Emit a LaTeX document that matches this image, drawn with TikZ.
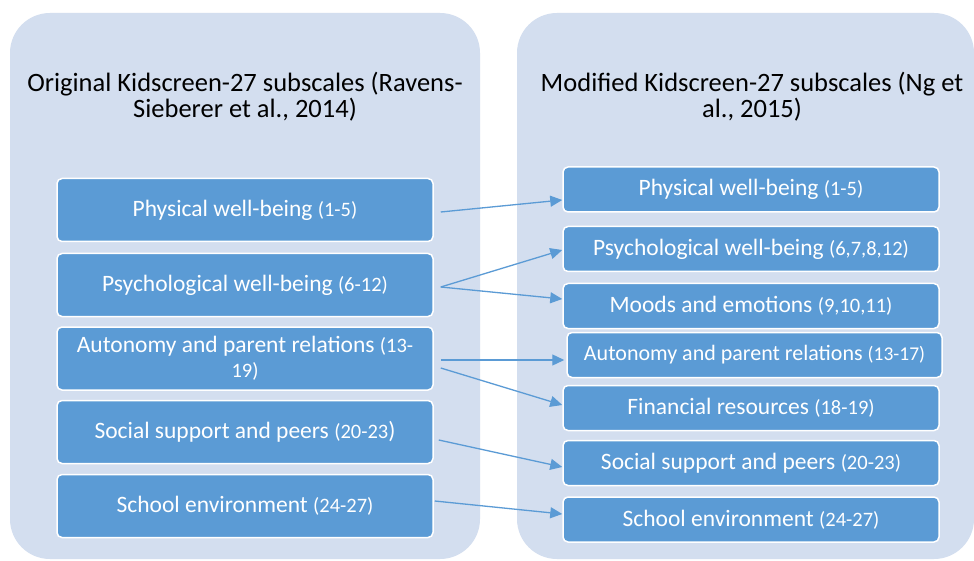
\documentclass[tikz,border=0pt]{standalone}
\usepackage{fontspec}
\setmainfont{Carlito}
\usetikzlibrary{arrows.meta}
\definecolor{panel}{HTML}{D3DEEF}
\definecolor{boxblue}{HTML}{5B9BD5}
% item numbers are set a little smaller than the subscale names
\newcommand\nr[1]{{\fontsize{20.5}{24}\selectfont #1}}
\newcommand\nrs[1]{{\fontsize{19.5}{23}\selectfont #1}}
\tikzset{
  panelbox/.style={fill=panel, rounded corners=40pt},
  heading/.style={font=\fontsize{26.5}{26}\selectfont, align=center, inner sep=0pt},
  sub/.style={draw=white, line width=1.5pt, fill=boxblue, rounded corners=5pt,
    text=white, font=\fontsize{23.5}{25}\selectfont, inner sep=0pt, align=center},
  leftsub/.style={sub, minimum width=376pt, minimum height=63pt},
  rightsub/.style={sub, minimum width=376pt, minimum height=45pt},
  link/.style={draw=boxblue, line width=1.3pt, -{Triangle[length=12pt,width=11pt]}}
}
\begin{document}
\begin{tikzpicture}[x=1pt,y=-1pt]
\useasboundingbox (0,0) rectangle (974,561);
\fill[white] (0,0) rectangle (974,561);

% two background panels
\path[panelbox] (10,13) rectangle (480,559);
\path[panelbox] (517,13) rectangle (974,559);

% headings
\node[heading] (lt) at (245,97) {Original Kidscreen-27 subscales (Ravens-\\Sieberer et al., 2014)};
\node[heading] (rt) at (752,97) {Modified Kidscreen-27 subscales (Ng et\\al., 2015)};

% original subscales
\node[leftsub] (l1) at (245,210) {Physical well-being \nr{(1-5)}};
\node[leftsub] (l2) at (245,285) {Psychological well-being \nr{(6-12)}};
\node[leftsub] (l3) at (245,358.5) {Autonomy and parent relations \nr{(13-}\\\nr{19)}};
\node[leftsub] (l4) at (245,432) {Social support and peers \nr{(20-23})};
\node[leftsub] (l5) at (245,506) {School environment \nr{(24-27)}};

% modified subscales
\node[rightsub] (r1) at (751,189.5) {Physical well-being \nr{(1-5)}};
\node[rightsub] (r2) at (751,249) {Psychological well-being \nr{(6,7,8,12)}};
\node[rightsub] (r3) at (751,306) {Moods and emotions \nr{(9,10,11)}};
\node[rightsub, minimum width=375pt, font=\fontsize{22}{24}\selectfont] (r4) at (754.5,355) {Autonomy and parent relations \nrs{(13-17)}};
\node[rightsub] (r5) at (751,408) {Financial resources \nr{(18-19)}};
\node[rightsub] (r6) at (751,463) {Social support and peers \nr{(20-23)}};
\node[rightsub] (r7) at (751,519.5) {School environment \nr{(24-27)}};

% mapping between the two versions
\draw[link] ([xshift=7pt,yshift=-2pt]l1.east) -- ([yshift=-10.5pt]r1.west);
\draw[link] ([xshift=7pt,yshift=-2pt]l2.east) -- ([yshift=-1pt]r2.west);
\draw[link] ([xshift=7pt,yshift=-2pt]l2.east) -- ([yshift=7pt]r3.west);
\draw[link] ([xshift=7pt,yshift=-1.5pt]l3.east) -- ([xshift=-2pt,yshift=-5pt]r4.west);
\draw[link] ([xshift=7pt,yshift=-9.5pt]l3.east) -- ([yshift=3pt]r5.west);
\draw[link] ([xshift=5pt,yshift=-8pt]l4.east) -- ([yshift=-4pt]r6.west);
\draw[link] ([xshift=1pt,yshift=5pt]l5.east) -- ([yshift=5.5pt]r7.west);
\end{tikzpicture}
\end{document}
